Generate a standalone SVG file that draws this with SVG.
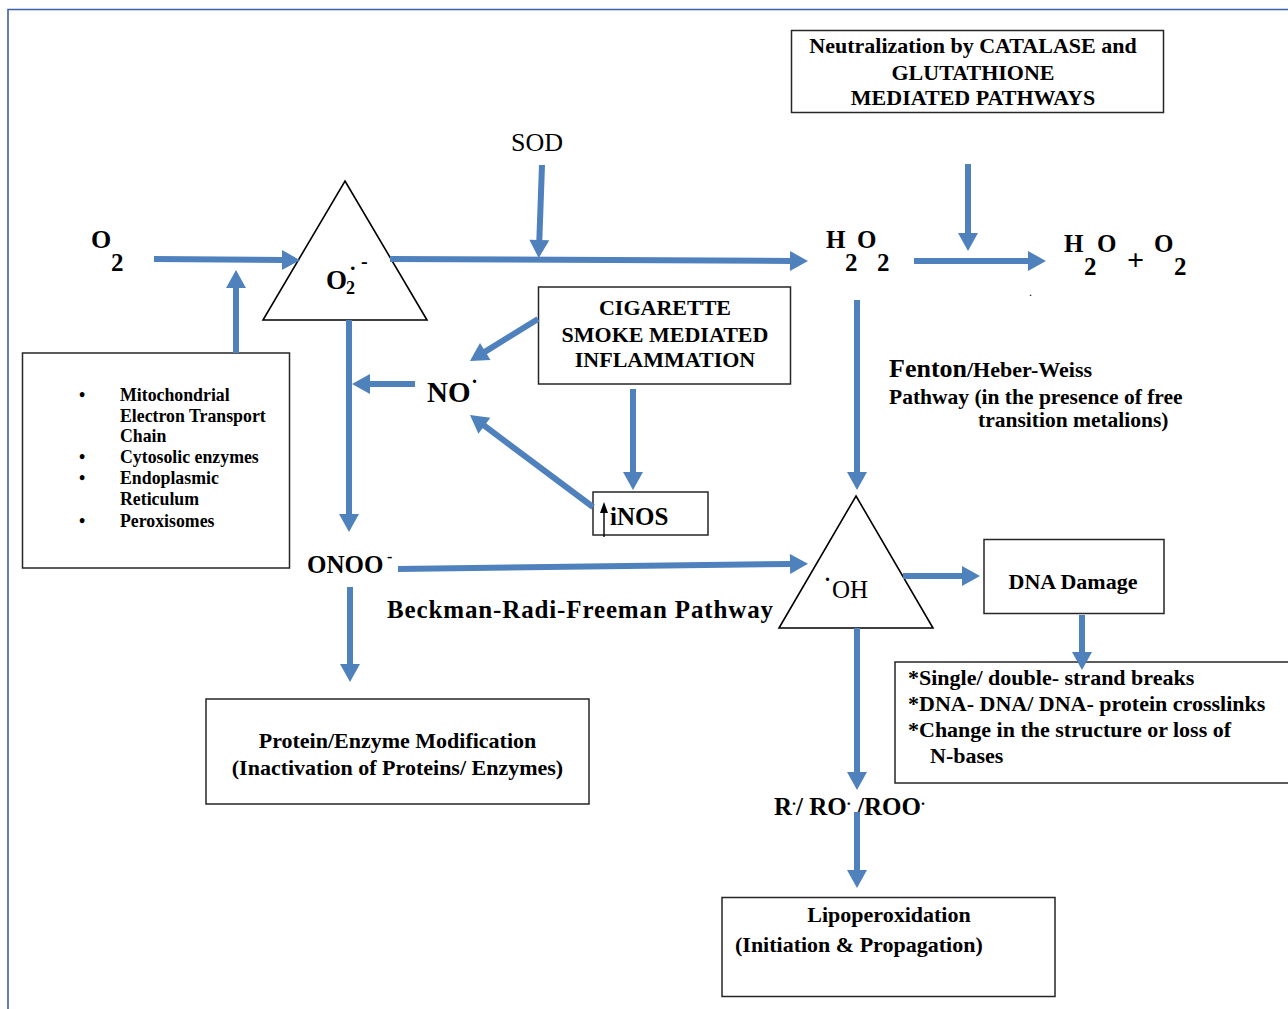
<svg xmlns="http://www.w3.org/2000/svg" width="1288" height="1009" viewBox="0 0 1288 1009">
  <style>
    .box { fill: #ffffff; stroke: #262626; stroke-width: 1.5; }
    .tri { fill: #ffffff; stroke: #000000; stroke-width: 1.6; }
    .conn { fill: none; stroke: #4f81bd; stroke-width: 6; marker-end: url(#head); }
    text { font-family: "Liberation Serif", "Times New Roman", serif; fill: #000000; }
    .b { font-weight: bold; }
    .c { text-anchor: middle; }
  </style>
  <defs>
    <marker id="head" markerUnits="userSpaceOnUse" markerWidth="20" markerHeight="22" viewBox="0 0 18 22" refX="1" refY="11" orient="auto">
      <path d="M0,1 L18,11 L0,21 Z" fill="#4f81bd"/>
    </marker>
  </defs>

  <rect width="1288" height="1009" fill="#ffffff"/>
  <!-- page frame -->
  <path d="M8,1009 L8,9.5 L1288,9.5" fill="none" stroke="#3d5ea8" stroke-width="1.6"/>

  <!-- oxygen -->
  <g id="o2">
    <text class="b" font-size="26" x="91" y="248">O</text>
    <text class="b" font-size="25" x="111" y="271">2</text>
  </g>

  <!-- superoxide -->
  <g id="superoxide">
    <polygon class="tri" points="345,181 427,320 263,320"/>
    <text class="b" font-size="27" x="326" y="289">O</text>
    <text class="b" font-size="18" x="346" y="294">2</text>
    <text class="b" font-size="22" x="350" y="270">.</text>
    <text class="b" font-size="20" x="361" y="268">-</text>
  </g>

  <!-- sources -->
  <g id="sources">
    <rect class="box" x="22.5" y="353" width="267" height="215"/>
    <g class="b" font-size="17.8">
      <text x="79" y="401">•</text>
      <text x="120" y="401">Mitochondrial</text>
      <text x="120" y="422">Electron Transport</text>
      <text x="120" y="442">Chain</text>
      <text x="79" y="463">•</text>
      <text x="120" y="463">Cytosolic enzymes</text>
      <text x="79" y="484">•</text>
      <text x="120" y="484">Endoplasmic</text>
      <text x="120" y="505">Reticulum</text>
      <text x="79" y="527">•</text>
      <text x="120" y="527">Peroxisomes</text>
    </g>
  </g>

  <!-- SOD -->
  <g id="sod">
    <text font-size="26" x="511" y="151">SOD</text>
  </g>

  <!-- hydrogen peroxide -->
  <g id="h2o2">
    <text class="b" font-size="25" x="826" y="248">H</text>
    <text class="b" font-size="25" x="857" y="248">O</text>
    <text class="b" font-size="25" x="845" y="271">2</text>
    <text class="b" font-size="25" x="877" y="271">2</text>
  </g>

  <!-- neutralization -->
  <g id="catalase">
    <rect class="box" x="791.5" y="30.5" width="372" height="82"/>
    <g class="b c" font-size="22">
      <text x="973" y="53">Neutralization by CATALASE and</text>
      <text x="973" y="80">GLUTATHIONE</text>
      <text x="973" y="105">MEDIATED PATHWAYS</text>
    </g>
  </g>

  <!-- water and oxygen -->
  <g id="products">
    <text class="b" font-size="25" x="1064" y="252">H</text>
    <text class="b" font-size="25" x="1084" y="275">2</text>
    <text class="b" font-size="25" x="1097" y="252">O</text>
    <text class="b" font-size="30" x="1127" y="270">+</text>
    <text class="b" font-size="25" x="1154" y="252">O</text>
    <text class="b" font-size="25" x="1174" y="275">2</text>
    <text font-size="12" x="1029" y="296">.</text>
  </g>

  <!-- nitric oxide -->
  <g id="no">
    <text class="b" font-size="29" x="427" y="402">NO</text>
    <text class="b" font-size="20" x="472" y="383">.</text>
  </g>

  <!-- smoke -->
  <g id="smoke">
    <rect class="box" x="538.5" y="287" width="252" height="97"/>
    <g class="b c" font-size="22">
      <text x="665" y="315">CIGARETTE</text>
      <text x="665" y="342">SMOKE MEDIATED</text>
      <text x="665" y="367">INFLAMMATION</text>
    </g>
  </g>

  <!-- iNOS -->
  <g id="inos">
    <rect class="box" x="593" y="492" width="115" height="43"/>
    <path d="M604,537 L604,510" stroke="#000000" stroke-width="1.4" fill="none"/>
    <path d="M600,513 L604,502 L608,513 Z" fill="#000000"/>
    <text class="b" font-size="25" x="610" y="525">iNOS</text>
  </g>

  <!-- peroxynitrite -->
  <g id="onoo">
    <text class="b" font-size="25" x="307" y="573">ONOO</text>
    <text class="b" font-size="16" x="387" y="562">-</text>
  </g>

  <!-- pathway label -->
  <g id="beckman">
    <text class="b" font-size="25" x="387" y="618" textLength="386" lengthAdjust="spacing">Beckman-Radi-Freeman Pathway</text>
  </g>

  <!-- protein modification -->
  <g id="protein">
    <rect class="box" x="206" y="699" width="383" height="105"/>
    <g class="b c" font-size="22">
      <text x="397.5" y="748">Protein/Enzyme Modification</text>
      <text x="397.5" y="775">(Inactivation of Proteins/ Enzymes)</text>
    </g>
  </g>

  <!-- Fenton label -->
  <g id="fenton" class="b">
    <text x="889" y="377"><tspan font-size="26">Fenton</tspan><tspan font-size="22">/Heber-Weiss</tspan></text>
    <text x="889" y="404" font-size="21.5">Pathway (in the presence of free</text>
    <text x="978" y="427" font-size="21.5">transition metalions)</text>
  </g>

  <!-- hydroxyl radical -->
  <g id="hydroxyl">
    <polygon class="tri" points="856,496 933,628 779,628"/>
    <text class="b" font-size="20" x="825" y="581">.</text>
    <text font-size="25" x="832" y="598">OH</text>
  </g>

  <!-- DNA damage -->
  <g id="dna">
    <rect class="box" x="984" y="539.5" width="180" height="74"/>
    <text class="b c" font-size="22" x="1073" y="589">DNA Damage</text>
  </g>

  <!-- lesions -->
  <g id="lesions">
    <rect class="box" x="895" y="662" width="410" height="121"/>
    <g class="b" font-size="22">
      <text x="908" y="685">*Single/ double- strand breaks</text>
      <text x="908" y="711">*DNA- DNA/ DNA- protein crosslinks</text>
      <text x="908" y="737">*Change in the structure or loss of</text>
      <text x="930" y="763">N-bases</text>
    </g>
  </g>

  <!-- lipid radicals -->
  <g id="radicals">
    <text class="b" font-size="25" x="774" y="815">R<tspan font-size="16" dy="-10">.</tspan><tspan dy="10">/ RO</tspan><tspan font-size="16" dy="-10">.</tspan><tspan dy="10"> /ROO</tspan><tspan font-size="16" dy="-10">.</tspan></text>
  </g>

  <!-- lipoperoxidation -->
  <g id="lipo">
    <rect class="box" x="722" y="897.5" width="333" height="99"/>
    <text class="b c" font-size="22" x="889" y="922">Lipoperoxidation</text>
    <text class="b" font-size="22" x="735" y="952">(Initiation &amp; Propagation)</text>
  </g>

  <!-- connectors -->
  <g id="connectors">
    <line class="conn" x1="154" y1="259" x2="283" y2="260"/>
    <line class="conn" x1="236" y1="353" x2="236" y2="287"/>
    <line class="conn" x1="390" y1="259" x2="791" y2="261"/>
    <line class="conn" x1="542" y1="165" x2="539.3" y2="241"/>
    <line class="conn" x1="968" y1="164" x2="968" y2="234"/>
    <line class="conn" x1="914" y1="261" x2="1029" y2="261"/>
    <line class="conn" x1="349" y1="320" x2="349" y2="515"/>
    <line class="conn" x1="415" y1="384" x2="369" y2="384"/>
    <line class="conn" x1="538" y1="319" x2="484.4" y2="352.1"/>
    <line class="conn" x1="633" y1="389" x2="633" y2="473"/>
    <line class="conn" x1="593" y1="507" x2="483.6" y2="425.2"/>
    <line class="conn" x1="398" y1="569" x2="791" y2="564"/>
    <line class="conn" x1="350" y1="587" x2="350" y2="665"/>
    <line class="conn" x1="857" y1="300" x2="857" y2="473"/>
    <line class="conn" x1="903" y1="576" x2="963" y2="576"/>
    <line class="conn" x1="1082" y1="615" x2="1082" y2="653"/>
    <line class="conn" x1="857" y1="628" x2="857" y2="773"/>
    <line class="conn" x1="857" y1="812" x2="857" y2="871"/>
  </g>
</svg>
